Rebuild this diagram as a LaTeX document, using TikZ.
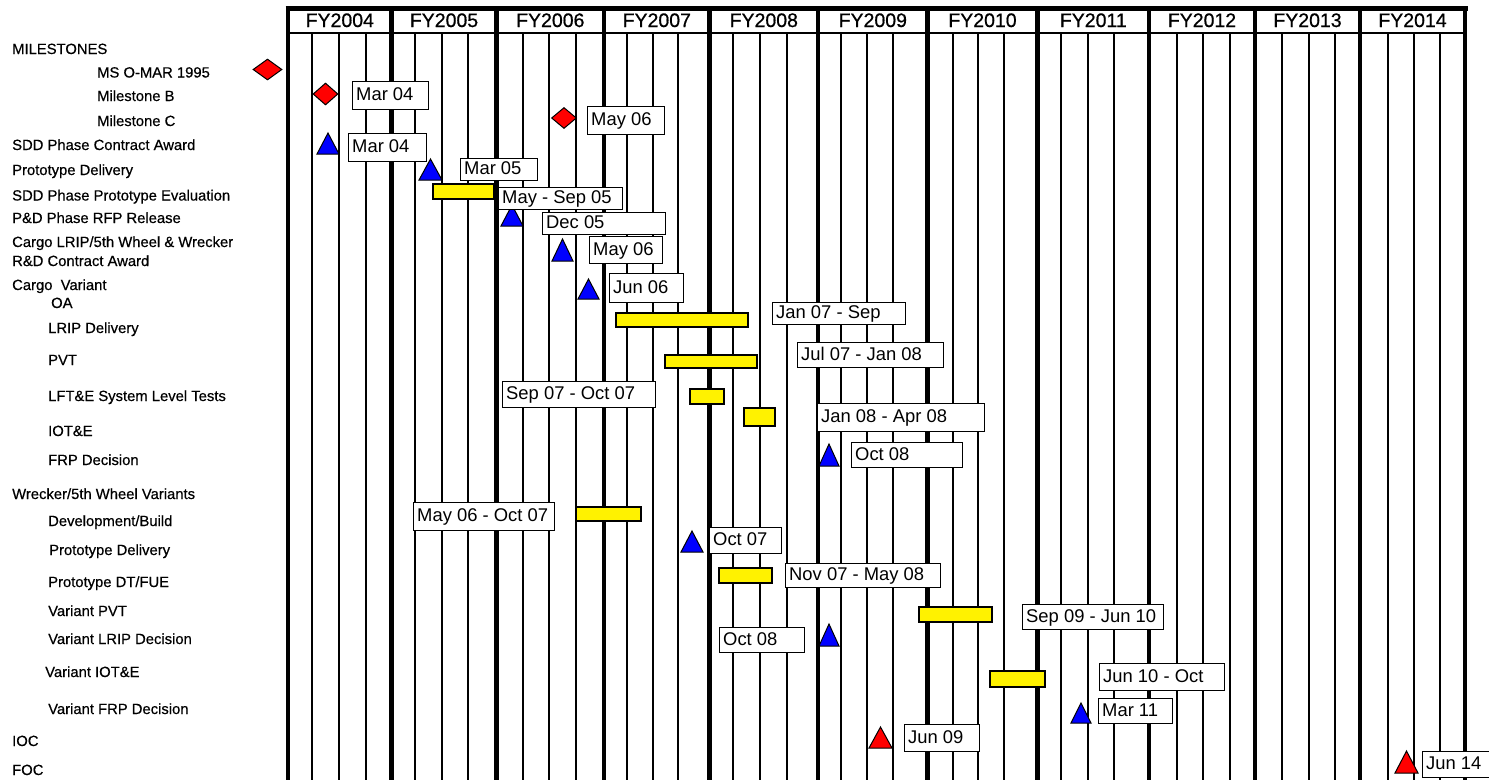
\documentclass[tikz,border=0pt]{standalone}
\usepackage{fontspec}
\setmainfont{Liberation Sans}
\newfontfamily\labfont[FakeBold=0.5]{Liberation Sans}
\newfontfamily\yrfont[FakeBold=0.7]{Liberation Sans}
\usetikzlibrary{shapes.geometric}
\tikzset{
  lab/.style={anchor=base west, inner sep=0pt, font=\labfont\fontsize{14.8}{16}\selectfont},
  yr/.style={anchor=base, inner sep=0pt, font=\yrfont\fontsize{19.5}{21}\selectfont},
  datebox/.style={draw=black, line width=1.3pt, fill=white, anchor=north west, inner sep=0pt},
  dtext/.style={anchor=base west, inner sep=0pt, font=\fontsize{18.4}{20}\selectfont},
  bar/.style={draw=black, line width=1.3pt, fill=yellow},
  msdia/.style={diamond, draw=black, line width=1pt, fill=red, inner sep=0pt},
  bluetri/.style={draw=black, line width=1pt, fill=blue},
  redtri/.style={draw=black, line width=1pt, fill=red},
  thickln/.style={line width=4.5pt},
  thinln/.style={line width=1.6pt},
}
\newcommand\dbox[6]{%
  \node[datebox, minimum width=#4pt, minimum height=#5pt] (#1) at (#2,#3) {};
  \node[dtext] (#1-t) at ([xshift=4pt, yshift=-5pt]#1.west) {#6};
}
\newcommand\tri[5]{%
  \draw[#1] (#2,#5) -- (#3,#5) -- ({(#2+#3)/2},#4) -- cycle;
}
\begin{document}
\begin{tikzpicture}[x=1pt, y=-1pt]
\useasboundingbox (0,0) rectangle (1489,780);
\clip (0,0) rectangle (1489,780);
% header
\draw[line width=5pt] (285.5,8.5) -- (1467.5,8.5);
\draw[line width=1.2pt] (288,33) -- (1465,33);
% grid
\foreach \x in {312,339,366,415,442,468,523,549,576,627,653,678,733,760,787,841,867,893,953,978,1004,1061,1088,1114,1177,1203,1230,1282,1309,1335,1388,1414,1440}
  \draw[thinln] (\x,33) -- (\x,780);
\foreach \x in {288,391.5,496.5,604,709.5,818,927.5,1037.5,1149,1255,1360,1465}
  \draw[thickln] (\x,6) -- (\x,780);
% years
\node[yr] (y04) at (339.8,27) {FY2004};
\node[yr] (y05) at (444,27) {FY2005};
\node[yr] (y06) at (550.3,27) {FY2006};
\node[yr] (y07) at (656.8,27) {FY2007};
\node[yr] (y08) at (763.8,27) {FY2008};
\node[yr] (y09) at (872.8,27) {FY2009};
\node[yr] (y10) at (982.5,27) {FY2010};
\node[yr] (y11) at (1093.3,27) {FY2011};
\node[yr] (y12) at (1202,27) {FY2012};
\node[yr] (y13) at (1307.5,27) {FY2013};
\node[yr] (y14) at (1412.5,27) {FY2014};
% row labels
\node[lab] (r1) at (12,54) {MILESTONES};
\node[lab] (r2) at (97,77.5) {MS O-MAR 1995};
\node[lab] (r3) at (97,101) {Milestone B};
\node[lab] (r4) at (97,126) {Milestone C};
\node[lab] (r5) at (12,150) {SDD Phase Contract Award};
\node[lab] (r6) at (12,175) {Prototype Delivery};
\node[lab] (r7) at (12,200.5) {SDD Phase Prototype Evaluation};
\node[lab] (r8) at (12,223) {P\&D Phase RFP Release};
\node[lab] (r9) at (12,247) {Cargo LRIP/5th Wheel \& Wrecker};
\node[lab] (r10) at (12,266) {R\&D Contract Award};
\node[lab] (r11) at (12,290) {Cargo\ \ Variant};
\node[lab] (r12) at (51,308) {OA};
\node[lab] (r13) at (48,333) {LRIP Delivery};
\node[lab] (r14) at (48,365) {PVT};
\node[lab] (r15) at (48,401) {LFT\&E System Level Tests};
\node[lab] (r16) at (48,436) {IOT\&E};
\node[lab] (r17) at (48,465) {FRP Decision};
\node[lab] (r18) at (12,499) {Wrecker/5th Wheel Variants};
\node[lab] (r19) at (48,526) {Development/Build};
\node[lab] (r20) at (49,555) {Prototype Delivery};
\node[lab] (r21) at (48,587) {Prototype DT/FUE};
\node[lab] (r22) at (48,616) {Variant PVT};
\node[lab] (r23) at (48,644) {Variant LRIP Decision};
\node[lab] (r24) at (45,677) {Variant IOT\&E};
\node[lab] (r25) at (48,714) {Variant FRP Decision};
\node[lab] (r26) at (12,746) {IOC};
\node[lab] (r27) at (12,775) {FOC};
% bars
\draw[bar] (433,184) rectangle (494,199);
\draw[bar] (616,313) rectangle (748,327);
\draw[bar] (665,355) rectangle (757,368);
\draw[bar] (690,389) rectangle (724,404);
\draw[bar] (744,408) rectangle (775,426);
\draw[bar] (576,507) rectangle (641,521);
\draw[bar] (719,568) rectangle (772,583);
\draw[bar] (919,607) rectangle (992,622);
\draw[bar] (990,671) rectangle (1045,687);
% triangles
\tri{bluetri}{317}{339}{133}{154}
\tri{bluetri}{419}{442}{159}{180}
\tri{bluetri}{501}{523}{205}{226}
\tri{bluetri}{552}{573}{239}{261}
\tri{bluetri}{578}{599}{279}{299}
\tri{bluetri}{819}{839}{444}{466}
\tri{bluetri}{681}{703}{531}{552}
\tri{bluetri}{819}{839}{624}{646}
\tri{bluetri}{1071}{1091}{703}{723}
\tri{redtri}{869}{892}{727}{748}
\tri{redtri}{1395}{1418}{751}{773}
% diamonds
\node[msdia, minimum width=29pt, minimum height=21pt] (d0) at (267.5,69.5) {};
\node[msdia, minimum width=25pt, minimum height=22pt] (d1) at (325.5,94) {};
\node[msdia, minimum width=25pt, minimum height=21pt] (d2) at (564,118) {};
% date boxes
\dbox{bA}{352}{81}{76}{28}{Mar 04}
\dbox{bB}{587}{106}{77}{28}{May 06}
\dbox{bC}{348}{133}{78}{28}{Mar 04}
\dbox{bD}{460}{158}{77}{22}{Mar 05}
\dbox{bE}{498}{187}{124}{22}{May - Sep 05}
\dbox{bF}{542}{212}{123}{22}{Dec 05}
\dbox{bG}{589}{236}{73}{27}{May 06}
\dbox{bH}{609}{273}{74}{29}{Jun 06}
\dbox{bI}{772}{302}{133}{22}{Jan 07 - Sep}
\dbox{bJ}{797}{342}{146}{25}{Jul 07 - Jan 08}
\dbox{bK}{502}{381}{153}{26}{Sep 07 - Oct 07}
\dbox{bL}{817}{403}{167}{28}{Jan 08 - Apr 08}
\dbox{bM}{851}{442}{111}{25}{Oct 08}
\dbox{bN}{413}{502}{141}{28}{May 06 - Oct 07}
\dbox{bO}{709}{527}{72}{26}{Oct 07}
\dbox{bP}{785}{563}{155}{24}{Nov 07 - May 08}
\dbox{bQ}{1022}{604}{141}{25}{Sep 09 - Jun 10}
\dbox{bR}{719}{627}{85}{25}{Oct 08}
\dbox{bS}{1099}{663}{125}{27}{Jun 10 - Oct}
\dbox{bT}{1098}{698}{74}{25}{Mar 11}
\dbox{bU}{904}{724}{75}{27}{Jun 09}
\dbox{bV}{1422}{751}{80}{26}{Jun 14}
\end{tikzpicture}
\end{document}
